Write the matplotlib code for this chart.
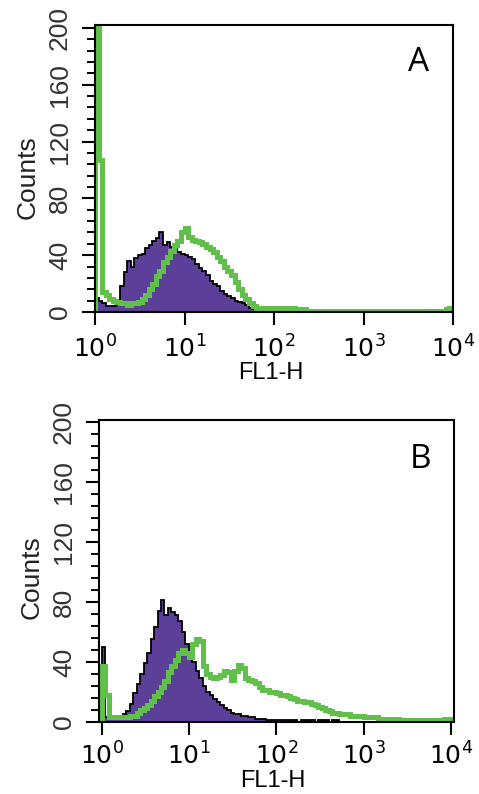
import numpy as np
import matplotlib
matplotlib.use("Agg")
import matplotlib.pyplot as plt
from matplotlib.ticker import MultipleLocator, LogLocator, NullFormatter

plt.rcParams['font.family'] = ['Liberation Sans', 'DejaVu Sans']

# histogram channels: 0.04 decade wide, from 10^0 to 10^4
BIN = 0.04
NBINS = 100

# panel A: unstained control (purple) and stained (green)
ctrl_a = [10, 8, 6, 4, 4, 4, 5, 18, 28, 36,
          32, 38, 40, 41, 45, 47, 50, 52, 56, 47,
          49, 46, 44, 42, 41, 40, 39, 37, 34, 31,
          29, 26, 22, 20, 18, 15, 13, 11, 10, 8,
          7, 6, 5, 3, 2, 1, 0, 0, 0, 0,
          0, 0, 0, 0, 0, 0, 0, 0, 0, 0,
          0, 0, 0, 0, 0, 0, 0, 0, 0, 0,
          0, 0, 0, 0, 0, 0, 0, 0, 0, 0,
          0, 0, 0, 0, 0, 0, 0, 0, 0, 0,
          0, 0, 0, 0, 0, 0, 0, 0, 0, 0]
stain_a = [250, 107, 14, 12, 9, 8, 7, 6, 6, 5,
           6, 6, 7, 9, 12, 16, 20, 25, 29, 35,
           39, 43, 47, 50, 56, 59, 53, 51, 50, 49,
           48, 46, 44, 42, 39, 36, 32, 29, 26, 21,
           16, 12, 9, 6, 4, 3, 3, 3, 2, 3,
           3, 2, 3, 3, 2, 3, 2, 2, 2, 1,
           1, 1, 1, 0, 1, 1, 1, 1, 0, 1,
           1, 1, 1, 1, 0, 1, 1, 1, 1, 1,
           1, 0, 1, 1, 1, 1, 1, 1, 1, 1,
           1, 1, 1, 1, 1, 1, 1, 1, 2, 3]

# panel B
ctrl_b = [50, 3, 2, 2, 3, 4, 5, 7, 12, 19,
          25, 32, 39, 46, 55, 63, 74, 81, 71, 76,
          73, 71, 67, 60, 52, 46, 40, 34, 29, 24,
          20, 18, 15, 13, 11, 9, 8, 6, 5, 5,
          4, 4, 3, 3, 2, 2, 2, 1, 1, 1,
          1, 1, 1, 1, 1, 1, 0, 1, 1, 1,
          1, 0, 1, 1, 1, 0, 1, 1, 0, 0,
          0, 0, 0, 0, 0, 0, 0, 0, 0, 0,
          0, 0, 0, 0, 0, 0, 0, 0, 0, 0,
          0, 0, 0, 0, 0, 0, 0, 1, 0, 0]
stain_b = [37, 18, 3, 3, 3, 3, 3, 3, 4, 4,
           6, 8, 9, 11, 14, 17, 20, 23, 27, 33,
           37, 41, 46, 48, 46, 43, 52, 55, 54, 37,
           32, 30, 29, 30, 31, 34, 33, 28, 34, 38,
           36, 29, 28, 27, 26, 23, 21, 21, 20, 20,
           19, 18, 18, 17, 16, 15, 14, 14, 13, 13,
           12, 11, 10, 9, 8, 7, 6, 6, 5, 5,
           5, 4, 4, 4, 4, 3, 3, 3, 3, 2,
           2, 2, 2, 2, 2, 1, 1, 1, 1, 1,
           1, 1, 1, 1, 1, 1, 1, 1, 2, 2]

yticks = [0, 40, 80, 120, 160, 200]
xticks = [1, 10, 100, 1000, 10000]
xticklabels = ['$10^{0}$', '$10^{1}$', '$10^{2}$', '$10^{3}$', '$10^{4}$']

PURPLE = '#5b3f99'
GREEN = '#60c04a'
NARROW = ['Liberation Sans Narrow', 'Liberation Sans', 'DejaVu Sans']

W, H = 479, 794
fig = plt.figure(figsize=(W / 100, H / 100), dpi=100)

edges = 10 ** (np.arange(NBINS + 1) * BIN)


def panel(rect, ctrl, stain, letter, xlim, ytop, ylab_y, xlab_y, xpad):
    ax = fig.add_axes(rect)
    ax.stairs(ctrl, edges, fill=True, color=PURPLE, zorder=2)
    ax.stairs(ctrl, edges, color='black', lw=1.3, zorder=3)
    ax.stairs(stain, edges, color=GREEN, lw=3.6, zorder=4)
    ax.set_xscale('log')
    ax.set_xlim(*xlim)
    ax.set_ylim(0, ytop)
    for s in ax.spines.values():
        s.set_linewidth(1.5)
        s.set_zorder(5)
    ax.set_yticks(yticks)
    ax.yaxis.set_minor_locator(MultipleLocator(8))
    ax.set_xticks(xticks)
    ax.set_xticklabels(xticklabels)
    ax.xaxis.set_minor_locator(LogLocator(base=10, subs=np.arange(2, 10)))
    ax.xaxis.set_minor_formatter(NullFormatter())
    ax.tick_params(axis='both', which='major', direction='out', length=9.5, width=1.5)
    ax.tick_params(axis='both', which='minor', direction='out', length=5.5, width=1.4)
    ax.tick_params(axis='x', which='major', labelsize=18, pad=xpad)
    ax.tick_params(axis='y', which='major', pad=7)
    for lbl in ax.get_yticklabels():
        lbl.set_rotation(90)
        lbl.set_va('center')
        lbl.set_family(NARROW)
        lbl.set_fontsize(19)
        lbl.set_color('#333333')
    ax.set_ylabel('Counts', fontsize=19, color='#222222', family=NARROW)
    ax.yaxis.set_label_coords(-0.155, ylab_y)
    ax.set_xlabel('FL1-H', fontsize=17)
    ax.xaxis.set_label_coords(0.49, xlab_y)
    ax.xaxis.label.set_va('top')
    ax.text(0.905, 0.87, letter, transform=ax.transAxes, fontsize=24,
            ha='center', va='center', family=['Open Sans', 'DejaVu Sans'])
    return ax


panel([95 / W, 1 - 312 / H, 358 / W, 287 / H], ctrl_a, stain_a, 'A',
      (1, 1e4), 202, 0.47, -0.175, 7)
panel([99 / W, 1 - 722 / H, 355 / W, 302 / H], ctrl_b, stain_b, 'B',
      (10 ** -0.03, 10 ** 4.035), 201.3, 0.48, -0.158, 5)

fig.savefig('out.png', dpi=100)
